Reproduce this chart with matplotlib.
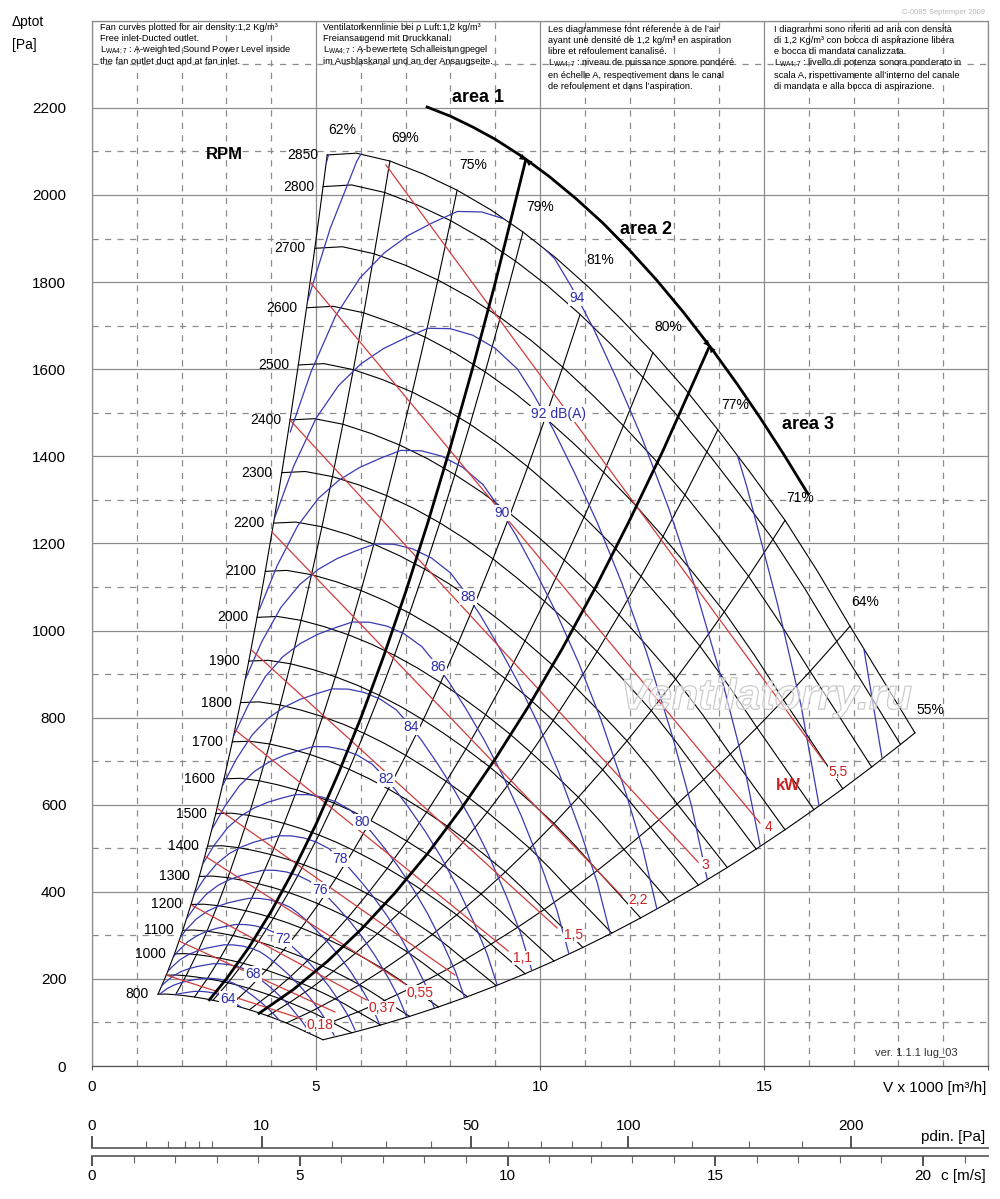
import numpy as np
import matplotlib
matplotlib.use("Agg")
import matplotlib.pyplot as plt
import matplotlib.patheffects as pe
from matplotlib.patches import Polygon

plt.rcParams["font.family"] = ["Liberation Sans", "DejaVu Sans"]
plt.rcParams["mathtext.fontset"] = "custom"
plt.rcParams["mathtext.rm"] = "Liberation Sans"
plt.rcParams["mathtext.it"] = "Liberation Sans:italic"

rpm = [800, 900, 1000, 1100, 1200, 1300, 1400, 1500, 1600, 1700, 1800, 1900,
       2000, 2100, 2200, 2300, 2400, 2500, 2600, 2700, 2800, 2850]
rpm_unlabelled = [900]
top_rpm = 2850
top_q = [5.25, 5.9, 6.65, 7.4, 8.15, 8.9, 9.62, 10.35, 11.09, 11.8, 12.52,
         13.25, 13.97, 14.7, 15.47, 16.2, 16.92, 17.65, 18.37]
top_p = [2092, 2096, 2078, 2048, 2011, 1966, 1915, 1856, 1788, 1716, 1638,
         1553, 1461, 1362, 1253, 1135, 1010, 887, 765]

# efficiency lines (points of the top curve they run through)
eff_col = [0, 2, 4, 6, 8, 10, 12, 14, 16, 18]
eff_text = ["62%", "69%", "75%", "79%", "81%", "80%", "77%", "71%", "64%", "55%"]
eff_upto_rpm = [2850, 2850, 2850, 2850, 2800, 2850, 2850, 2850, 2850, 2850]
eff_lab_q = [5.58, 6.99, 8.50, 10.0, 11.34, 12.86, 14.35, 15.80, 17.25, 18.71]
eff_lab_p = [2149, 2131, 2069, 1972, 1851, 1697, 1518, 1304, 1065, 817]

# sound power lines dB(A): shape of the 92 line, and where each line crosses the label row
snd92_q = [4.07, 4.5, 5.0, 5.5, 6.0, 6.5, 7.0, 7.5, 8.0, 8.5, 9.0, 9.5, 9.84,
           10.29, 10.78, 11.29, 11.83, 12.37, 12.95, 13.39, 13.73]
snd92_p = [1257, 1377, 1487, 1562, 1612, 1647, 1672, 1694, 1693, 1678, 1648,
           1600, 1545, 1463, 1360, 1245, 1108, 952, 759, 594, 430]
snd_db = [64, 66, 68, 70, 72, 74, 76, 78, 80, 82, 84, 86, 88, 90, 92, 94, 96, 98]
snd_ref_q = [3.04, 3.31, 3.59, 3.92, 4.26, 4.65, 5.09, 5.54, 6.03, 6.56, 7.12,
             7.72, 8.39, 9.15, 9.96, 10.83, 11.77, 12.79]
snd_ref_p = [154, 181, 211, 250, 292, 346, 404, 475, 560, 659, 778, 916, 1077,
             1270, 1522, 1763, 2126, 2510]
snd_lab_text = ["64", "68", "72", "76", "78", "80", "82", "84", "86", "88", "90",
                "92 dB(A)", "94"]
snd_lab_q = [3.04, 3.59, 4.26, 5.09, 5.54, 6.03, 6.56, 7.12, 7.72, 8.39, 9.15,
             10.42, 10.83]
snd_lab_p = [154, 211, 292, 404, 475, 560, 659, 778, 916, 1077, 1270, 1497, 1763]

# absorbed power lines kW
kw = [0.18, 0.25, 0.37, 0.55, 0.75, 1.1, 1.5, 2.2, 3, 4, 5.5]
kw_start_q = [1.65, 1.94, 2.21, 2.52, 2.79, 3.19, 3.55, 4.02, 4.42, 4.87, 6.56]
kw_start_p = [209, 287, 370, 482, 592, 772, 956, 1226, 1483, 1800, 2069]
kw_end_q = [4.69, 5.42, 6.12, 6.99, 8.10, 9.29, 10.38, 11.83, 13.53, 14.91, 16.36]
kw_end_p = [108, 124, 152, 188, 209, 264, 317, 390, 468, 558, 696]
kw_lab_text = ["0,18", "0,37", "0,55", "1,1", "1,5", "2,2", "3", "4", "5,5"]
kw_lab_q = [5.09, 6.47, 7.32, 9.60, 10.74, 12.19, 13.68, 15.09, 16.65]
kw_lab_p = [94, 133, 168, 248, 301, 381, 462, 549, 675]

# area limits
area1_q = [2.62, 3.0, 3.5, 4.0, 4.5, 5.0, 5.5, 6.0, 6.5, 7.0, 7.5, 8.0, 8.5, 9.0, 9.68]
area1_p = [152, 200, 272, 355, 450, 555, 672, 799, 938, 1088, 1249, 1421, 1604, 1798, 2080]
area2_q = [3.73, 4.5, 5.25, 6.0, 6.75, 7.5, 8.25, 9.0, 9.75, 10.5, 11.25, 12.0, 12.75, 13.78]
area2_p = [121, 176, 240, 313, 396, 489, 592, 705, 827, 959, 1101, 1253, 1414, 1652]
arc_q = [7.48, 8.0, 8.5, 9.0, 9.62, 10.2, 10.8, 11.4, 12.0, 12.6, 13.2, 13.84,
         14.4, 14.91, 15.45, 15.98]
arc_p = [2202, 2181, 2156, 2128, 2087, 2043, 1992, 1936, 1873, 1805, 1731, 1646,
         1566, 1489, 1403, 1314]
area_text = ["area 1", "area 2", "area 3"]
area_lab_q = [8.62, 12.37, 15.98]
area_lab_p = [2225, 1920, 1474]

# dynamic pressure / outlet velocity scales
rho = 1.2
c_per_v = 20 / 18.55
pdin_major = [0, 10, 50, 100, 200]
pdin_minor = [1, 2, 3, 4, 5, 20, 30, 40, 60, 70, 80, 90, 125, 150, 175]

notes = [
    (100, 27, ["Fan curves plotted for air density:1,2 Kg/m³",
               "Free inlet-Ducted outlet.",
               r"$\mathrm{L}_{\mathrm{WA4;7}}$ : A-weighted Sound Power Level inside",
               "the fan outlet duct and at fan inlet."]),
    (323, 27, ["Ventilatorkennlinie bei ρ Luft:1,2 kg/m³",
               "Freiansaugend mit Druckkanal.",
               r"$\mathrm{L}_{\mathrm{WA4;7}}$ : A-bewertete Schalleistungpegel",
               "im Ausblaskanal und an der Ansaugseite."]),
    (548, 29, ["Les diagrammese font réference à de l’air",
               "ayant une densité de 1,2 kg/m³ en aspiration",
               "libre et refoulement canalisé.",
               r"$\mathrm{L}_{\mathrm{WA4;7}}$ : niveau de puissance sonore pondéré",
               "en échelle A, respectivement dans le canal",
               "de refoulement et dans l’aspiration."]),
    (774, 29, ["I diagrammi sono riferiti ad aria con densità",
               "di 1,2 Kg/m³ con bocca di aspirazione libera",
               "e bocca di mandata canalizzata.",
               r"$\mathrm{L}_{\mathrm{WA4;7}}$ : livello di potenza sonora ponderato in",
               "scala A, rispettivamente all’interno del canale",
               "di mandata e alla bocca di aspirazione."]),
]

W, H = 1000, 1199
fig = plt.figure(figsize=(W / 100, H / 100), dpi=100)


def ftext(px, py, s, **kw_args):
    fig.text(px / W, 1 - py / H, s, **kw_args)


ax = fig.add_axes([92 / W, 133 / H, 896 / W, 1045.2 / H])
ax.set_xlim(0, 20)
ax.set_ylim(0, 2400)
grid_c = "#8c8c8c"
ax.set_xticks([0, 5, 10, 15, 20], ["0", "5", "10", "15", ""])
ax.set_xticks(np.arange(0, 21, 1), minor=True)
ax.set_yticks(np.arange(0, 2401, 200), [str(v) for v in range(0, 2201, 200)] + [""])
ax.set_yticks(np.arange(100, 2400, 200), minor=True)
ax.grid(which="major", color=grid_c, lw=0.9, ls="-")
ax.grid(which="minor", color=grid_c, lw=0.9, ls=(0, (5, 5)))
ax.set_axisbelow(True)
for s in ax.spines.values():
    s.set_color(grid_c)
    s.set_linewidth(0.9)
ax.spines["bottom"].set_color("#555555")
ax.tick_params(axis="x", which="major", length=3, color="#555555", labelsize=11, pad=7)
ax.tick_params(axis="y", which="major", length=0, labelsize=11, pad=18.5)
ax.tick_params(which="minor", length=0)

blue = "#3a3ab4"
red = "#d23c3c"

# fan curves and efficiency mesh
ratio = np.array(rpm) / top_rpm
q_fan = np.outer(ratio, top_q)
p_fan = np.outer(ratio ** 2, top_p)
for i, n in enumerate(rpm):
    ax.plot(q_fan[i], p_fan[i], color="black", lw=0.8, zorder=3)
    if n not in rpm_unlabelled:
        ax.text(q_fan[i, 0] - 0.2, p_fan[i, 0], str(n), ha="right", va="center",
                fontsize=10, zorder=6)
ax.text(2.95, 2092, "RPM", ha="center", va="center", fontsize=12,
        fontweight="bold")

for col, top, txt, lq, lp in zip(eff_col, eff_upto_rpm, eff_text, eff_lab_q, eff_lab_p):
    rows = np.array(rpm) <= top
    ax.plot(q_fan[rows, col], p_fan[rows, col], color="black", lw=0.8, zorder=3)
    ax.text(lq, lp, txt, ha="center", va="center", fontsize=10)

# fan working region, used to clip the sound lines
edge_q = np.concatenate([q_fan[:, 0], q_fan[-1, 1:], q_fan[-2::-1, -1], q_fan[0, -2:0:-1]])
edge_p = np.concatenate([p_fan[:, 0], p_fan[-1, 1:], p_fan[-2::-1, -1], p_fan[0, -2:0:-1]])
region = Polygon(np.column_stack([edge_q, edge_p]), closed=True,
                 transform=ax.transData, fc="none", ec="none")

i92 = snd_db.index(92)
for rq, rp in zip(snd_ref_q, snd_ref_p):
    sq = rq / snd_ref_q[i92]
    sp = rp / snd_ref_p[i92]
    line, = ax.plot(np.array(snd92_q) * sq, np.array(snd92_p) * sp, color=blue,
                    lw=0.9, zorder=4)
    line.set_clip_path(region)
for txt, lq, lp in zip(snd_lab_text, snd_lab_q, snd_lab_p):
    ax.text(lq, lp, txt, ha="center", va="center", fontsize=10, color="#2e2eaa",
            zorder=7, bbox=dict(fc="white", ec="none", pad=0.8))

# power lines
for sq, sp, eq, ep in zip(kw_start_q, kw_start_p, kw_end_q, kw_end_p):
    ax.plot([sq, eq], [sp, ep], color=red, lw=0.9, zorder=4)
for txt, lq, lp in zip(kw_lab_text, kw_lab_q, kw_lab_p):
    ax.text(lq, lp, txt, ha="center", va="center", fontsize=10, color="#cc2222",
            zorder=7, bbox=dict(fc="white", ec="none", pad=0.3))
ax.text(15.54, 645, "kW", ha="center", va="center", fontsize=12,
        fontweight="bold", color="#cc2222", zorder=7)

# area limits
ax.plot(area1_q, area1_p, color="black", lw=2.0, zorder=5)
ax.plot(area2_q, area2_p, color="black", lw=2.0, zorder=5)
ax.plot(arc_q, arc_p, color="black", lw=2.0, zorder=5)
for tq, tp in [(area1_q[-1], area1_p[-1]), (area2_q[-1], area2_p[-1])]:
    for dq in (-0.45, 0.45):
        ax.annotate("", xy=(tq, tp), xytext=(tq + dq, np.interp(tq + dq, arc_q, arc_p)),
                    arrowprops=dict(arrowstyle="-|>", color="black", lw=0.01,
                                    mutation_scale=11, shrinkA=0, shrinkB=0),
                    zorder=6)
for txt, lq, lp in zip(area_text, area_lab_q, area_lab_p):
    ax.text(lq, lp, txt, ha="center", va="center", fontsize=13, fontweight="bold")

ax.text(15.05, 845, "Ventilatorry.ru", ha="center", va="center", fontsize=31,
        style="italic", fontweight="bold", color=(1, 1, 1, 0.35), zorder=8,
        path_effects=[pe.Stroke(linewidth=0.9, foreground="#c2c2c2"), pe.Normal()])
ax.text(18.39, 30, "ver. 1.1.1 lug_03", ha="center", va="center", fontsize=8,
        color="#333333")

# velocity and dynamic pressure scales
axc = fig.add_axes([92 / W, (H - 1156) / H, 896 / W, 8 / H])
axc.set_xlim(0, 20 * c_per_v)
axc.set_yticks([])
axc.patch.set_visible(False)
for k in ("top", "left", "right"):
    axc.spines[k].set_visible(False)
axc.spines["bottom"].set_color("#555555")
axc.spines["bottom"].set_linewidth(1.2)
axc.set_xticks([0, 5, 10, 15, 20])
axc.set_xticks(np.arange(0, 22, 1), minor=True)
axc.tick_params(axis="x", which="major", direction="out", length=7.5, width=1.3,
                color="#444444", labelsize=11, pad=1.5)
axc.tick_params(axis="x", which="minor", direction="out", length=5, width=0.8,
                color="#666666")

axp = axc.twiny()
axp.set_xscale("function", functions=(lambda x: np.sqrt(np.clip(x, 0, None) / (0.5 * rho)),
                                      lambda x: 0.5 * rho * np.asarray(x) ** 2))
axp.set_xlim(0, 0.5 * rho * (20 * c_per_v) ** 2)
axp.patch.set_visible(False)
for k in ("bottom", "left", "right"):
    axp.spines[k].set_visible(False)
axp.spines["top"].set_color("#555555")
axp.spines["top"].set_linewidth(1.2)
axp.set_xticks(pdin_major, [str(v) for v in pdin_major])
axp.set_xticks(pdin_minor, minor=True)
axp.tick_params(axis="x", which="major", direction="out", length=8.5, width=1.3,
                color="#444444", labelsize=11, pad=2)
axp.tick_params(axis="x", which="minor", direction="out", length=5, width=0.8,
                color="#666666")

# texts around the chart
ftext(12, 22, "Δptot", ha="left", va="center", fontsize=10)
ftext(12, 45, "[Pa]", ha="left", va="center", fontsize=10)
ftext(986, 1088, "V x 1000 [m³/h]", ha="right", va="center", fontsize=11)
ftext(985, 1137, "pdin. [Pa]", ha="right", va="center", fontsize=11)
ftext(986, 1176, "c [m/s]", ha="right", va="center", fontsize=11)
ftext(985, 13, "C-0085 Septemper 2009", ha="right", va="center", fontsize=5.5,
      color="#b8b8b8")
for x0, y0, lines in notes:
    for k, s in enumerate(lines):
        ftext(x0, y0 + 11.5 * k, s, ha="left", va="center", fontsize=6.7)

fig.savefig("out.png", dpi=100)
